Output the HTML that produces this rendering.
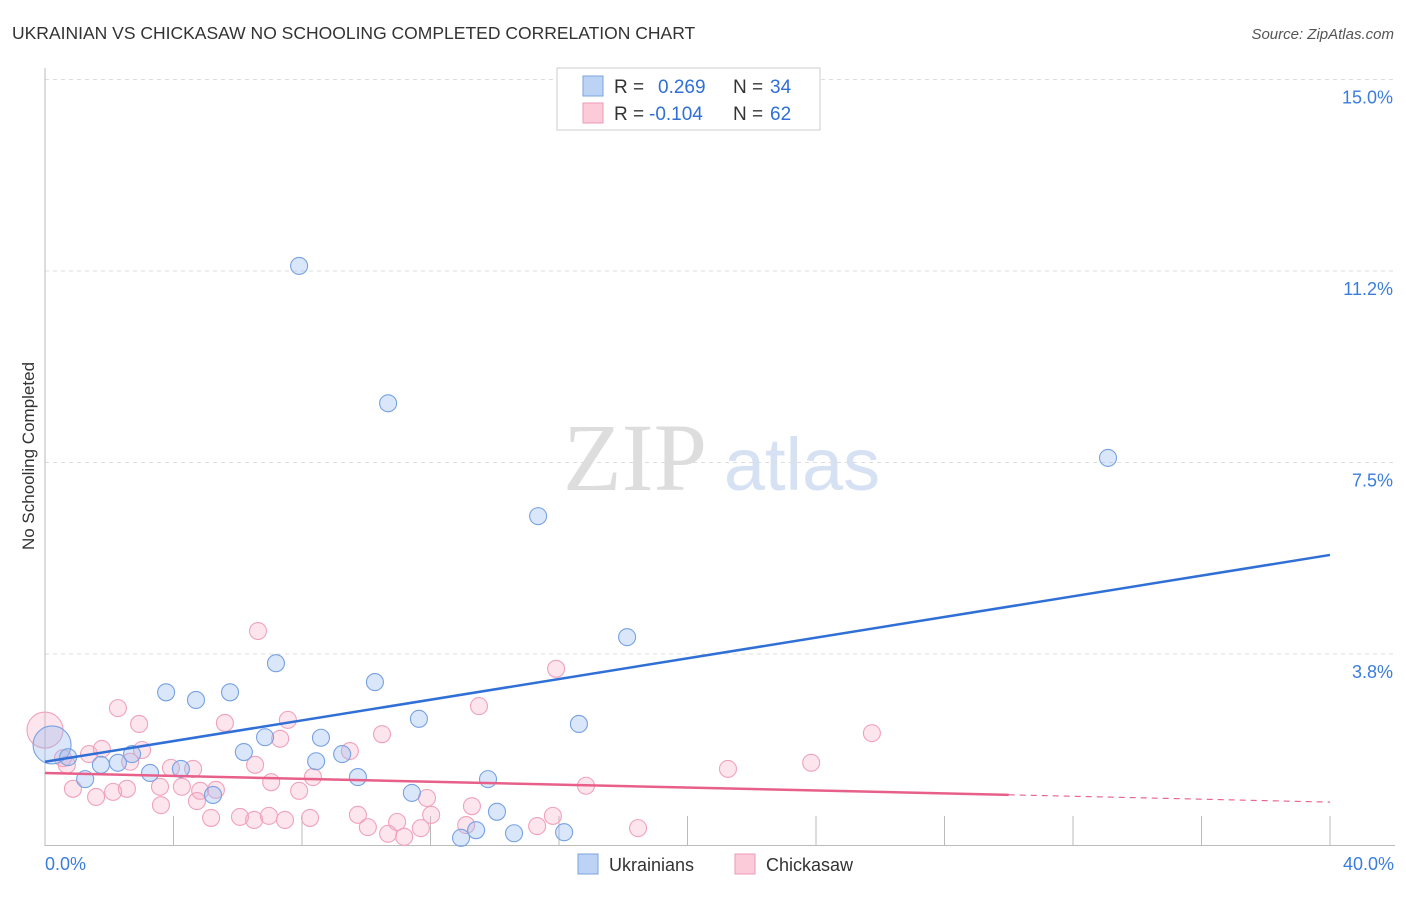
<!DOCTYPE html>
<html><head><meta charset="utf-8"><style>
body{margin:0;background:#fff;font-family:"Liberation Sans",sans-serif}
</style></head><body>
<svg width="1406" height="892" xmlns="http://www.w3.org/2000/svg" id="chart">
<text x="12" y="39" font-size="17.5" fill="#333">UKRAINIAN VS CHICKASAW NO SCHOOLING COMPLETED CORRELATION CHART</text>
<text x="1394" y="39" font-size="15" fill="#555" font-style="italic" text-anchor="end">Source: ZipAtlas.com</text>
<text x="635" y="490" font-size="96" fill="#ddd" font-family="Liberation Serif" text-anchor="middle">ZIP</text>
<text x="802" y="490" font-size="74" fill="#d6e2f3" text-anchor="middle">atlas</text>
<text transform="translate(34,456) rotate(-90)" font-size="17" fill="#333" text-anchor="middle">No Schooling Completed</text>
<g id="grid"></g><g id="marks"></g>
<g>
<rect x="557" y="68" width="263" height="62" fill="#fff" stroke="#ccc"/>
<rect x="583" y="76" width="20" height="20" fill="#bcd3f5" stroke="#7aa3e0"/>
<rect x="583" y="103" width="20" height="20" fill="#fbcbd9" stroke="#ee9ab5"/>
<text y="93" font-size="19" fill="#333"><tspan x="614">R =</tspan><tspan x="658" fill="#2f6fd6">0.269</tspan><tspan x="733">N =</tspan><tspan x="770" fill="#2f6fd6">34</tspan></text>
<text y="120" font-size="19" fill="#333"><tspan x="614">R =</tspan><tspan x="649" fill="#2f6fd6">-0.104</tspan><tspan x="733">N =</tspan><tspan x="770" fill="#2f6fd6">62</tspan></text>
</g>
<g>
<rect x="578" y="854" width="20" height="20" fill="#bcd3f5" stroke="#7aa3e0"/>
<text x="609" y="871" font-size="18" fill="#333">Ukrainians</text>
<rect x="735" y="854" width="20" height="20" fill="#fbcbd9" stroke="#ee9ab5"/>
<text x="766" y="871" font-size="18" fill="#333">Chickasaw</text>
</g>
</svg>
<script>
const yTicks=[15,11.25,7.5,3.75];
const yTickLabels=["15.0%","11.2%","7.5%","3.8%"];
const xTickLabels=["0.0%","40.0%"];
const blueX=[7.91,10.68,15.35,33.09,18.12,7.19,3.77,4.70,5.76,10.27,11.64,16.62,6.85,8.59,6.19,9.25,8.44,0.72,1.74,2.27,2.71,3.27,4.23,1.25,9.74,13.79,5.23,11.42,14.07,13.42,14.60,16.16,12.95];
const blueY=[11.35,8.66,6.45,7.59,4.08,3.57,3.00,2.85,3.00,3.20,2.48,2.38,2.12,2.11,1.83,1.79,1.65,1.73,1.58,1.62,1.79,1.42,1.50,1.30,1.34,1.30,0.99,1.03,0.66,0.30,0.24,0.26,0.15];
const pinkX=[6.63,15.91,2.27,2.93,5.60,7.56,13.51,10.49,25.74,7.32,9.49,1.77,3.02,1.37,2.65,0.56,0.68,3.92,4.61,6.54,8.34,21.26,23.85,3.58,4.26,4.83,5.32,0.87,2.55,2.12,1.59,7.04,7.91,16.84,11.89,13.29,3.61,4.73,5.17,6.07,6.51,6.97,7.47,8.25,9.74,10.96,12.02,15.81,10.05,11.70,10.68,11.18,15.32,18.46,13.11];
const pinkY=[4.20,3.46,2.69,2.38,2.40,2.46,2.73,2.18,2.20,2.09,1.85,1.89,1.87,1.79,1.64,1.71,1.58,1.52,1.50,1.58,1.34,1.50,1.62,1.15,1.15,1.07,1.09,1.11,1.11,1.05,0.95,1.24,1.07,1.17,0.93,0.77,0.79,0.87,0.54,0.56,0.50,0.58,0.50,0.54,0.60,0.46,0.60,0.58,0.36,0.34,0.23,0.17,0.38,0.34,0.40];
const blueBig=[0.22,1.97], pinkBig=[0,2.26];
const blueTrend=[1.64,5.69], pinkTrend=[1.42,0.85], pinkSolidEnd=30;
const NS="http://www.w3.org/2000/svg";
const X=v=>45+v/40*1285, Y=v=>845.5-v/3.75*191.5;
function mk(t,a,p){const e=document.createElementNS(NS,t);for(const k in a)e.setAttribute(k,a[k]);p.appendChild(e);return e;}
const g=document.getElementById('grid'), m=document.getElementById('marks');
yTicks.forEach((t,i)=>{
 const l=mk('line',{x1:45,x2:1395,y1:Y(t),y2:Y(t),stroke:'#ddd','stroke-dasharray':'4,4'},g);
 
 
 const tx=mk('text',{x:1393,y:Y(t)+24,'font-size':18,fill:'#3b7ddd','text-anchor':'end'},g);tx.textContent=yTickLabels[i];
 
 
});
mk('line',{x1:45,x2:45,y1:68,y2:846,stroke:'#bbb'},g);
mk('line',{x1:45,x2:1395,y1:845.5,y2:845.5,stroke:'#bbb'},g);
for(let i=1;i<=10;i++){const x=X(i*4);const t=mk('line',{x1:x,x2:x,y1:816,y2:846,stroke:'#bbb'},g);
 
 }
[[45,'start',0],[1394,'end',1]].forEach(([x,a,i])=>{const t=mk('text',{x:x,y:870,'font-size':18,fill:'#3b7ddd','text-anchor':a},g);t.textContent=xTickLabels[i];
 
 });
function dot(x,y,r,c,name){const e=mk('circle',{cx:X(x),cy:Y(y),r:r,fill:c[0],stroke:c[1],'stroke-width':1.1},m);
 
 }
const PC=['rgba(246,168,194,0.3)','#f0a2bb'], BC=['rgba(150,185,240,0.35)','#77a1e2'];
dot(pinkBig[0],pinkBig[1],18,PC,'chickasaw-point');
pinkX.forEach((x,i)=>dot(x,pinkY[i],8.5,PC,'chickasaw-point'));
dot(blueBig[0],blueBig[1],19,BC,'ukrainian-point');
blueX.forEach((x,i)=>dot(x,blueY[i],8.5,BC,'ukrainian-point'));
let l=mk('line',{x1:X(0),y1:Y(blueTrend[0]),x2:X(40),y2:Y(blueTrend[1]),stroke:'#2f6fd6','stroke-width':2.5},m);


const pm=pinkTrend[0]+(pinkTrend[1]-pinkTrend[0])*pinkSolidEnd/40;
l=mk('line',{x1:X(0),y1:Y(pinkTrend[0]),x2:X(pinkSolidEnd),y2:Y(pm),stroke:'#e8608a','stroke-width':2.5},m);


l=mk('line',{x1:X(pinkSolidEnd),y1:Y(pm),x2:X(40),y2:Y(pinkTrend[1]),stroke:'#e8608a','stroke-width':1.2,'stroke-dasharray':'6,5'},m);


</script>
</body></html>
